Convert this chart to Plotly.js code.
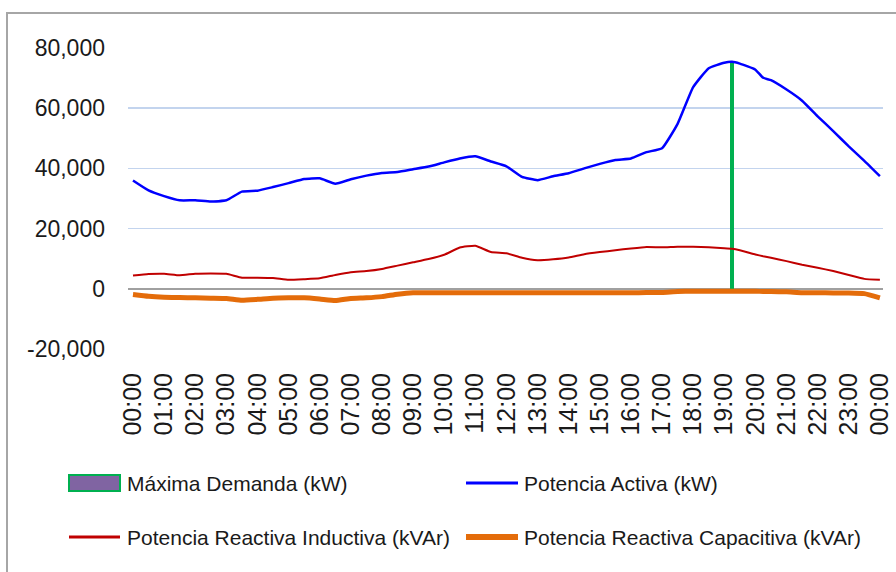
<!DOCTYPE html>
<html>
<head>
<meta charset="utf-8">
<script src="https://cdn.plot.ly/plotly-3.0.1.min.js"></script>
<style>
  html, body { margin: 0; padding: 0; background: #ffffff; }
  #chart { width: 896px; height: 572px; }
</style>
</head>
<body>
<div id="chart"></div>
<script>
// ---- DATA ----
const times = ["00:00","00:30","01:00","01:30","02:00","02:30","03:00","03:30","04:00","04:30",
  "05:00","05:30","06:00","06:30","07:00","07:30","08:00","08:30","09:00","09:30",
  "10:00","10:30","11:00","11:30","12:00","12:30","13:00","13:30","14:00","14:30",
  "15:00","15:30","16:00","16:30","17:00","17:30","18:00","18:30","19:00","19:15","19:30",
  "20:00","20:15","20:30","21:00","21:30","22:00","22:30","23:00","23:30","24:00"];

const potenciaActiva = [36000,32700,30800,29400,29400,29000,29400,32300,32600,33800,
  35100,36500,36700,34900,36400,37600,38500,38800,39700,40600,
  42000,43300,44000,42300,40700,37200,36100,37400,38400,40000,
  41500,42800,43300,45400,46700,54800,67000,73300,75100,75400,74800,
  72800,70100,69300,66200,62500,57300,52400,47300,42500,37400];

const reactivaInductiva = [4400,4900,5000,4500,5000,5100,5000,3700,3700,3600,
  3000,3200,3500,4600,5500,5900,6600,7700,8800,9900,
  11300,13700,14300,12200,11800,10300,9500,9800,10400,11500,
  12200,12800,13400,13900,13800,14000,14000,13800,13500,13300,12800,
  11400,10800,10300,9200,8000,7000,5900,4600,3300,3000];

const reactivaCapacitiva = [-1900,-2500,-2800,-2900,-3000,-3100,-3200,-3800,-3500,-3100,
  -3000,-3000,-3400,-3900,-3200,-3000,-2600,-1800,-1300,-1300,
  -1300,-1300,-1300,-1300,-1300,-1300,-1300,-1300,-1300,-1300,
  -1300,-1300,-1300,-1250,-1200,-900,-800,-800,-800,-800,-800,
  -800,-900,-900,-1000,-1300,-1300,-1400,-1400,-1600,-3000];

const maxDemandaTime = ["19:15"];
const maxDemandaValue = [75400];

const xTickLabels = ["00:00","01:00","02:00","03:00","04:00","05:00","06:00","07:00","08:00",
  "09:00","10:00","11:00","12:00","13:00","14:00","15:00","16:00","17:00","18:00","19:00",
  "20:00","21:00","22:00","23:00","00:00"];
const yTickValues = [-20000, 0, 20000, 40000, 60000, 80000];
const yTickLabels = ["-20,000","0","20,000","40,000","60,000","80,000"];

const seriesNames = ["Máxima Demanda (kW)", "Potencia Activa (kW)",
  "Potencia Reactiva Inductiva (kVAr)", "Potencia Reactiva Capacitiva (kVAr)"];

// ---- helpers ----
function toHours(t) { const p = t.split(":"); return Number(p[0]) + Number(p[1]) / 60; }
const xh = times.map(toHours);
const xTickVals = xTickLabels.map((t, i) => i);

const W = 896, H = 572;
const M = { l: 128, r: 13, t: 48, b: 223 };
const PW = W - M.l - M.r, PH = H - M.t - M.b;
const px2x = px => (px - M.l) / PW;
const py2y = py => (H - M.b - py) / PH;

const C = {
  demand: "#00b050", demandFill: "#8064a2",
  activa: "#0000ff", induct: "#c00000", capac: "#e46c0a",
  grid: "#c3d4ee", zero: "#a0a0a0", frame: "#a6a6a6", text: "#1a1a1a"
};
const REG = "'Liberation Sans', Arial, sans-serif";

const traces = [
  { type: "bar", x: maxDemandaTime.map(toHours), y: maxDemandaValue, width: 0.12,
    name: seriesNames[0], marker: { color: C.demand, line: { width: 0 } }, showlegend: false,
    hoverinfo: "skip" },
  { type: "scatter", mode: "lines", x: xh, y: potenciaActiva, name: seriesNames[1],
    line: { color: C.activa, width: 2.5, shape: "spline", smoothing: 0.4 }, showlegend: false },
  { type: "scatter", mode: "lines", x: xh, y: reactivaInductiva, name: seriesNames[2],
    line: { color: C.induct, width: 2, shape: "spline", smoothing: 0.4 }, showlegend: false },
  { type: "scatter", mode: "lines", x: xh, y: reactivaCapacitiva, name: seriesNames[3],
    line: { color: C.capac, width: 5, shape: "spline", smoothing: 0.4 }, showlegend: false }
];

// custom legend (shapes + text)
const legendRows = [483, 537];
const legendCols = [{ s0: 69, s1: 120, t: 125 }, { s0: 466, s1: 518, t: 522 }];
const shapes = [
  // outer chart frame (cropped in the reference)
  { type: "rect", xref: "paper", yref: "paper",
    x0: px2x(7), x1: px2x(W + 20), y0: py2y(H + 20), y1: py2y(13),
    line: { color: C.frame, width: 2 }, fillcolor: "rgba(0,0,0,0)", layer: "below" },
  // legend swatches
  { type: "rect", xref: "paper", yref: "paper",
    x0: px2x(legendCols[0].s0), x1: px2x(legendCols[0].s1),
    y0: py2y(legendRows[0] + 8), y1: py2y(legendRows[0] - 8),
    line: { color: C.demand, width: 2 }, fillcolor: C.demandFill },
  { type: "line", xref: "paper", yref: "paper",
    x0: px2x(legendCols[1].s0), x1: px2x(legendCols[1].s1),
    y0: py2y(legendRows[0]), y1: py2y(legendRows[0]), line: { color: C.activa, width: 3 } },
  { type: "line", xref: "paper", yref: "paper",
    x0: px2x(legendCols[0].s0), x1: px2x(legendCols[0].s1),
    y0: py2y(legendRows[1]), y1: py2y(legendRows[1]), line: { color: C.induct, width: 3 } },
  { type: "line", xref: "paper", yref: "paper",
    x0: px2x(legendCols[1].s0), x1: px2x(legendCols[1].s1),
    y0: py2y(legendRows[1]), y1: py2y(legendRows[1]), line: { color: C.capac, width: 6 } }
];
const legendPos = [[0, 0], [1, 0], [0, 1], [1, 1]];
const annotations = seriesNames.map((name, i) => ({
  xref: "paper", yref: "paper", x: px2x(legendCols[legendPos[i][0]].t),
  y: py2y(legendRows[legendPos[i][1]]), xanchor: "left", yanchor: "middle",
  text: name, showarrow: false, font: { family: REG, size: 21, color: C.text }
}));

const layout = {
  width: W, height: H, margin: M,
  paper_bgcolor: "#ffffff", plot_bgcolor: "#ffffff",
  showlegend: false, bargap: 0,
  xaxis: {
    range: [-0.16, 24.1], tickmode: "array", tickvals: xTickVals, ticktext: xTickLabels,
    tickangle: -90, showgrid: false, zeroline: false, showline: false, ticks: "",
    ticklabelstandoff: 18, tickfont: { family: REG, size: 25, color: C.text }, fixedrange: true
  },
  yaxis: {
    range: [-20000, 80000], tickmode: "array", tickvals: yTickValues, ticktext: yTickLabels,
    showgrid: true, gridcolor: C.grid, gridwidth: 1.5,
    zeroline: true, zerolinecolor: C.zero, zerolinewidth: 2, showline: false, ticks: "",
    ticklabelstandoff: 22, tickfont: { family: REG, size: 23, color: C.text }, fixedrange: true
  },
  shapes: shapes, annotations: annotations
};

Plotly.newPlot("chart", traces, layout, { staticPlot: true, displayModeBar: false });
</script>
</body>
</html>
